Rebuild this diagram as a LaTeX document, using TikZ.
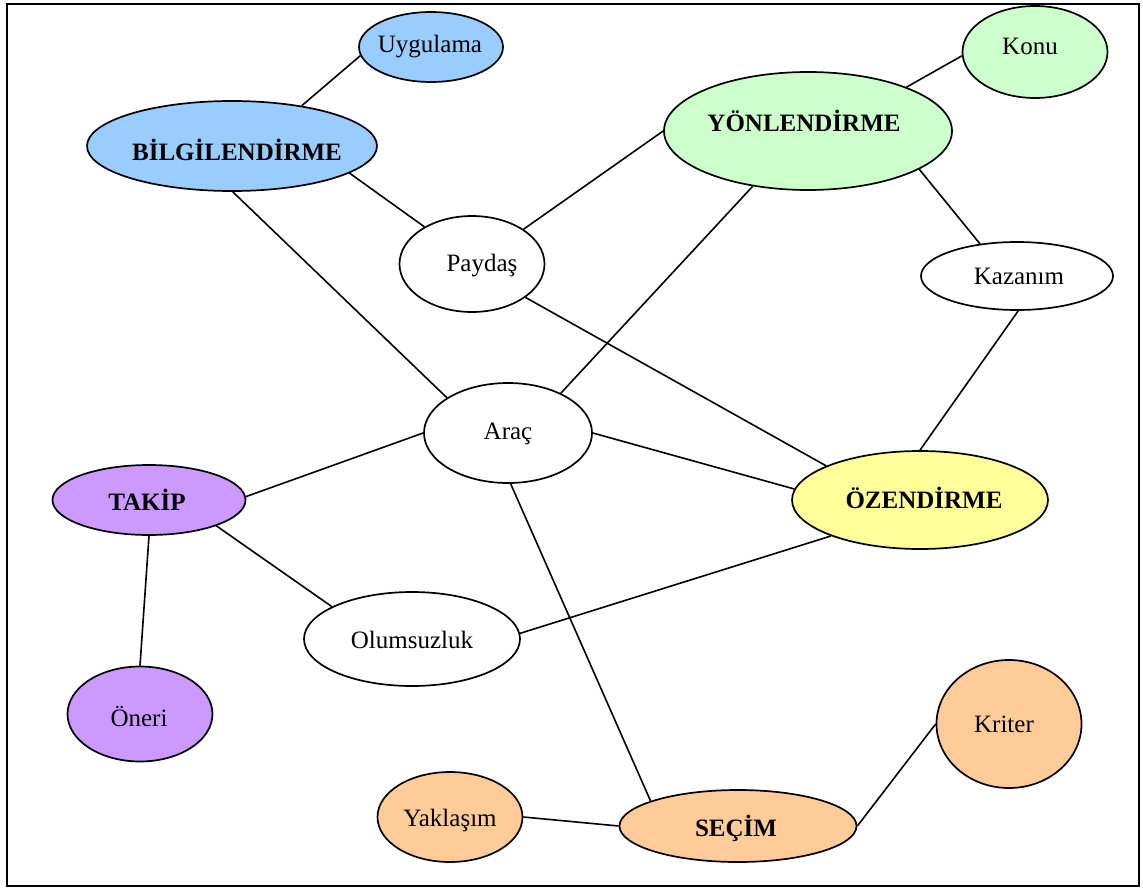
\documentclass[tikz,border=0pt]{standalone}
\usepackage{fontspec}
\setmainfont{Liberation Serif}
\usetikzlibrary{shapes.geometric}
\definecolor{cblue}{HTML}{99CCFF}
\definecolor{cgreen}{HTML}{CCFFCC}
\definecolor{cyellow}{HTML}{FFFF99}
\definecolor{cpurple}{HTML}{CC99FF}
\definecolor{corange}{HTML}{FFCC99}
\begin{document}
\begin{tikzpicture}[x=1pt,y=-1pt,
  ell/.style 2 args={ellipse,draw=black,line width=1.7pt,inner sep=0pt,
    minimum width=#1pt,minimum height=#2pt,font=\fontsize{25}{28}\selectfont},
  conn/.style={line width=1.6pt,black},
  lbl/.style={font=\fontsize{25}{28}\selectfont,inner sep=0pt}]
\useasboundingbox (0,0) rectangle (1143,889);
\fill[white] (0,0) rectangle (1143,889);
\draw[line width=2pt] (7,4) rectangle (1139,886);

\node[ell={144}{70},fill=cblue] (uyg) at (431,47) {};
\node[lbl] at (430,47) {Uygulama};
\node[ell={290}{90},fill=cblue] (bil) at (232,146) {};
\node[lbl] at (237,150) {\textbf{BİLGİLENDİRME}};
\node[ell={145}{92},fill=cgreen] (kon) at (1035,52) {};
\node[lbl] at (1030,46) {Konu};
\node[ell={288}{118},fill=cgreen] (yon) at (808,131) {};
\node[lbl] at (804,121) {\textbf{YÖNLENDİRME}};
\node[ell={145}{96},fill=white] (pay) at (472,264) {};
\node[lbl] at (482,266) {Paydaş};
\node[ell={192}{68},fill=white] (kaz) at (1017,276) {};
\node[lbl] at (1019,276) {Kazanım};
\node[ell={168}{100},fill=white] (arac) at (508,433) {};
\node[lbl] at (508,434) {Araç};
\node[ell={193}{70},fill=cpurple] (tak) at (149,500) {};
\node[lbl] at (147,500) {\textbf{TAKİP}};
\node[ell={256}{98},fill=cyellow] (oz) at (920,500) {};
\node[lbl] at (924,498) {\textbf{ÖZENDİRME}};
\node[ell={216}{94},fill=white] (olu) at (412,639) {};
\node[lbl] at (412,640) {Olumsuzluk};
\node[ell={145}{95},fill=cpurple] (one) at (140,714) {};
\node[lbl] at (139,716) {Öneri};
\node[ell={145}{128},fill=corange] (kri) at (1009,724) {};
\node[lbl] at (1004,724) {Kriter};
\node[ell={145}{90},fill=corange] (yak) at (450,817) {};
\node[lbl] at (450,820) {Yaklaşım};
\node[ell={237}{72},fill=corange] (sec) at (738,826) {};
\node[lbl] at (736,828) {\textbf{SEÇİM}};

\draw[conn] (uyg.187) -- (bil.30);
\draw[conn] (bil.-13) -- (pay.142);
\draw[conn] (bil.-89) -- (arac.150);
\draw[conn] (yon.24) -- (kon.183);
\draw[conn] (yon.180) -- (pay.34);
\draw[conn] (yon.-135) -- (arac.37);
\draw[conn] (yon.-19) -- (kaz.139);
\draw[conn] (pay.-32) -- (oz.160);
\draw[conn] (kaz.-88) -- (oz.90);
\draw[conn] (arac.0) -- (oz.175);
\draw[conn] (arac.180) -- (tak.2);
\draw[conn] (arac.-87) -- (sec.164);
\draw[conn] (tak.-21) -- (olu.158);
\draw[conn] (tak.-90) -- (one.90);
\draw[conn] (olu.3) -- (oz.-158);
\draw[conn] (yak.0) -- (sec.180);
\draw[conn] (sec.0) -- (kri.180);
\end{tikzpicture}
\end{document}
